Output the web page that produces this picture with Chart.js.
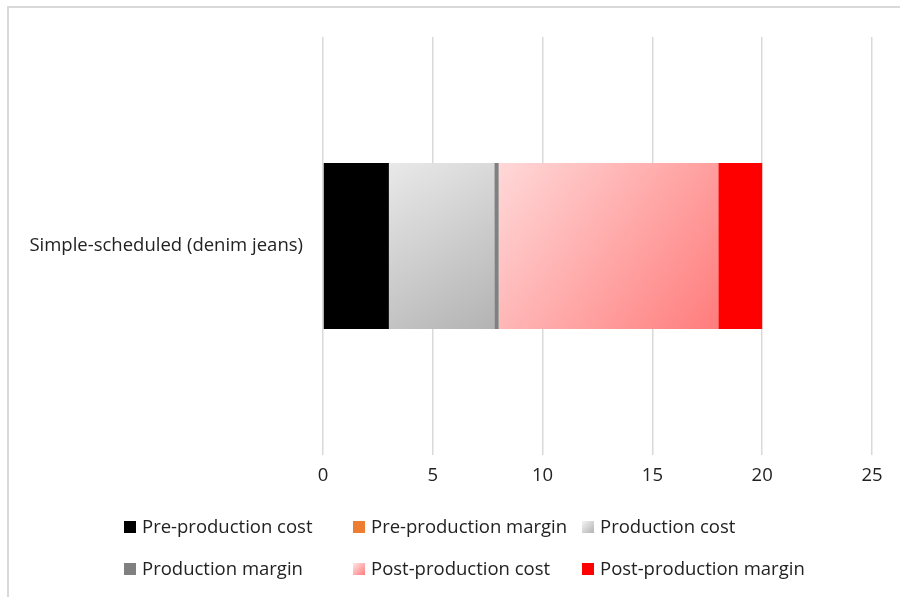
<!DOCTYPE html>
<html>
<head>
<meta charset="utf-8">
<script src="https://cdn.jsdelivr.net/npm/chart.js@4/dist/chart.umd.min.js"></script>
<style>
  html, body { margin: 0; padding: 0; background: #fff; }
  #wrap { position: relative; width: 900px; height: 597px; overflow: hidden; }
  #frame { position: absolute; left: 7px; top: 6px; width: 1000px; height: 700px;
           border-left: 2px solid #d9d9d9; border-top: 2px solid #d9d9d9; pointer-events: none; }
  canvas { position: absolute; left: 0; top: 0; }
  #legend { position: absolute; left: 0; top: 0; width: 900px; height: 597px; pointer-events: none;
            font-family: "Open Sans", "Liberation Sans", sans-serif; font-size: 18.5px; color: #222; }
  .item { position: absolute; white-space: nowrap; line-height: 20px; }
  .sw { position: absolute; width: 12px; height: 12px; left: 0; top: 4px; }
  .lbl { position: absolute; left: 18px; top: -1px; }
</style>
</head>
<body>
<div id="wrap">
  <canvas id="c" width="900" height="597"></canvas>
  <div id="frame"></div>
  <div id="legend"></div>
</div>
<script>
// ---- data ----
const categories = ["Simple-scheduled (denim jeans)"];
const seriesNames = ["Pre-production cost", "Pre-production margin", "Production cost",
                     "Production margin", "Post-production cost", "Post-production margin"];
const preProductionCost = [3];
const preProductionMargin = [0];
const productionCost = [4.8];
const productionMargin = [0.2];
const postProductionCost = [10];
const postProductionMargin = [2];
const xTicks = [0, 5, 10, 15, 20, 25];

// ---- styles ----
const seriesValues = [preProductionCost, preProductionMargin, productionCost,
                      productionMargin, postProductionCost, postProductionMargin];
const fills = [
  ["#000000"],
  ["#ED7D31"],
  ["#e9e9e9", "#b3b3b3"],
  ["#808080"],
  ["#ffd8d8", "#ff7c7c"],
  ["#ff0000"]
];
const BAR_PCT = 0.397;

function makeFill(stops, dsIndex) {
  if (stops.length === 1) return stops[0];
  return function (c) {
    const chart = c.chart;
    if (!chart.chartArea || c.dataIndex === undefined) return stops[0];
    const i = c.dataIndex;
    let start = 0;
    for (let d = 0; d < dsIndex; d++) start += seriesValues[d][i];
    const end = start + seriesValues[dsIndex][i];
    const xs = chart.scales.x, ys = chart.scales.y;
    const x0 = xs.getPixelForValue(start), x1 = xs.getPixelForValue(end);
    const yc = ys.getPixelForValue(i);
    const half = ys.height / categories.length * BAR_PCT / 2;
    const g = chart.ctx.createLinearGradient(x0, yc - half, x1, yc + half);
    g.addColorStop(0, stops[0]);
    g.addColorStop(1, stops[1]);
    return g;
  };
}

const datasets = seriesNames.map((name, k) => ({
  label: name,
  data: seriesValues[k],
  backgroundColor: makeFill(fills[k], k),
  borderWidth: 0,
  categoryPercentage: 1,
  barPercentage: BAR_PCT
}));

const FONT = { family: '"Open Sans", "Liberation Sans", sans-serif', size: 18.5 };

new Chart(document.getElementById('c'), {
  type: 'bar',
  data: { labels: categories, datasets },
  options: {
    indexAxis: 'y',
    responsive: false,
    animation: false,
    layout: { padding: { left: 0, right: 28, top: 37, bottom: 0 } },
    plugins: { legend: { display: false }, tooltip: { enabled: false } },
    scales: {
      x: {
        stacked: true,
        min: 0, max: 25,
        afterBuildTicks: (s) => { s.ticks = xTicks.map(v => ({ value: v })); },
        ticks: { color: '#222', font: FONT, padding: 10 },
        grid: { color: '#d9d9d9', lineWidth: 1.5, drawTicks: false },
        border: { display: false },
        afterFit: (s) => { s.height = 142; }
      },
      y: {
        stacked: true,
        ticks: { color: '#222', font: FONT, padding: 20 },
        grid: { display: false, drawTicks: false },
        border: { display: false },
        afterFit: (s) => { s.width = 323; }
      }
    }
  }
});

// ---- HTML legend built from the series ----
const legend = document.getElementById('legend');
const colX = [124, 353, 582];
const rowY = [517, 559];
seriesNames.forEach((name, k) => {
  const item = document.createElement('div');
  item.className = 'item';
  item.style.left = colX[k % 3] + 'px';
  item.style.top = rowY[Math.floor(k / 3)] + 'px';
  const sw = document.createElement('div');
  sw.className = 'sw';
  const st = fills[k];
  sw.style.background = st.length === 1 ? st[0]
    : 'linear-gradient(135deg, ' + (k === 2 ? '#f4f4f4' : '#ffe6e6') + ', ' + st[1] + ')';
  const lb = document.createElement('div');
  lb.className = 'lbl';
  lb.textContent = name;
  item.appendChild(sw);
  item.appendChild(lb);
  legend.appendChild(item);
});
</script>
</body>
</html>
